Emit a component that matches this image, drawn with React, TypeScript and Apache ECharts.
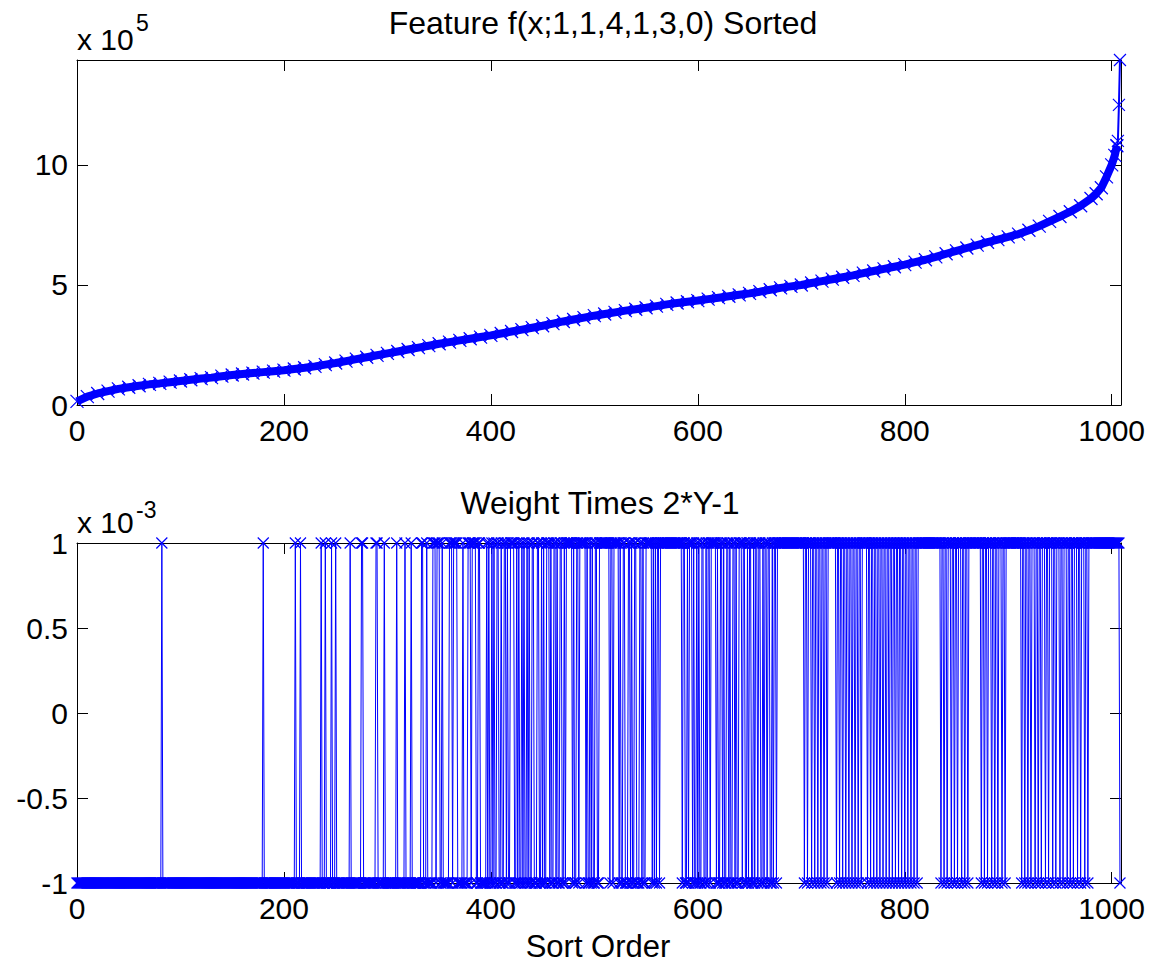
import React, { useEffect, useRef } from "react";
import * as echarts from "echarts";

// ---- Top panel: sorted feature values (units of 1e5) ----
const sortIdx = [
  0, 10, 20, 30, 40, 50, 60, 70, 80, 90,
  100, 110, 120, 130, 140, 150, 160, 170, 180, 190,
  200, 210, 220, 230, 240, 250, 260, 270, 280, 290,
  300, 310, 320, 330, 340, 350, 360, 370, 380, 390,
  400, 410, 420, 430, 440, 450, 460, 470, 480, 490,
  500, 510, 520, 530, 540, 550, 560, 570, 580, 590,
  600, 610, 620, 630, 640, 650, 660, 670, 680, 690,
  700, 710, 720, 730, 740, 750, 760, 770, 780, 790,
  800, 810, 820, 830, 840, 850, 860, 870, 880, 890,
  900, 910, 920, 930, 940, 950, 960, 970, 980, 985,
  990, 995, 1000, 1003, 1005, 1006, 1007, 1008,
];
const featureVal = [
  0.15, 0.35, 0.48, 0.58, 0.67, 0.74, 0.8, 0.86, 0.9, 0.95,
  1.0, 1.05, 1.1, 1.14, 1.2, 1.25, 1.29, 1.33, 1.37, 1.41,
  1.45, 1.5, 1.55, 1.61, 1.68, 1.75, 1.83, 1.91, 1.99, 2.07,
  2.15, 2.23, 2.31, 2.39, 2.47, 2.55, 2.62, 2.69, 2.76, 2.83,
  2.9, 2.98, 3.06, 3.14, 3.22, 3.3, 3.39, 3.48, 3.56, 3.64,
  3.72, 3.79, 3.86, 3.93, 3.99, 4.05, 4.12, 4.19, 4.25, 4.3,
  4.35, 4.41, 4.47, 4.53, 4.59, 4.65, 4.72, 4.8, 4.88, 4.94,
  5.0, 5.08, 5.16, 5.24, 5.32, 5.4, 5.49, 5.58, 5.67, 5.76,
  5.85, 5.95, 6.05, 6.17, 6.3, 6.42, 6.54, 6.66, 6.78, 6.89,
  7.0, 7.12, 7.28, 7.45, 7.65, 7.85, 8.05, 8.3, 8.6, 8.8,
  9.05, 9.5, 10.0, 10.4, 10.8, 11.0, 12.5, 14.37,
];
// from this position in the arrays on, points are sparse (thin line)
const sparseFrom = 104;

// ---- Bottom panel: weight times 2*Y-1 (units of 1e-3) ----
const nPoints = 1009;
const switchAt = 396; // before: mostly -1, after: mostly +1
// indices (before switchAt) that are +1
const upIdx = [
  82, 180, 211, 216, 236, 240, 246, 250, 264, 275, 276, 289, 290, 297,
  309, 317, 323, 333, 334, 338, 344, 345, 346, 348, 349, 350, 353, 360,
  361, 362, 364, 365, 366, 367, 373, 378, 379, 380, 382, 383, 384, 385,
  388, 389,
];
// indices (from switchAt on) that are -1
const downIdx = [
  397, 399, 400, 402, 404, 405, 408, 409, 411, 412, 415, 417, 418,
  423, 424, 426, 428, 429, 431, 433, 434, 436, 438, 439, 442, 443, 444, 447, 448, 450, 452, 453,
  457, 459, 460, 463, 465, 466, 469, 470, 472,
  479, 481, 482, 485,
  492, 494, 495, 497, 499, 500, 503, 504,
  515, 518,
  524, 526, 527, 530, 531, 532, 535, 537, 538, 541, 542, 543, 546, 548, 549,
  556, 558, 560, 563,
  585, 588, 589, 591,
  595, 597, 598, 600, 602, 603, 606, 607, 609, 612,
  618, 620, 621, 624, 626, 627, 630, 632, 633, 636, 638, 639,
  643, 646, 647, 649, 652, 653, 655, 658, 661, 662, 664, 667, 670, 671, 673, 676,
  703, 706, 710, 713, 716, 719, 722, 725,
  734, 737, 740, 743, 746, 749, 752, 755, 758,
  764, 767, 770, 773, 776, 779, 782, 785, 788, 791, 794, 797, 800, 803, 806, 809, 812,
  835, 838, 841, 845, 848, 851, 855, 858, 861,
  874, 877, 880, 884, 887, 890, 894, 897,
  913, 916, 919, 922, 926, 929, 932, 936, 939, 943, 946, 950, 953, 957,
  960, 963, 967, 970, 974, 977,
  1008,
];

const xMax = 1009;
const xStep = 200;
const topYMax = 14.37;
const topYStep = 5;
const botYStep = 0.5;

const FONT = "'Liberation Sans', Arial, Helvetica, sans-serif";
const BLUE = "#0000ff";
const XSYM = "path://M0,0L10,10M10,0L0,10";

function buildWeights(): number[][] {
  const up = new Set(upIdx);
  const down = new Set(downIdx);
  const out: number[][] = [];
  for (let i = 0; i < nPoints; i++) {
    let v: number;
    if (i < switchAt) v = up.has(i) ? 1 : -1;
    else v = down.has(i) ? -1 : 1;
    out.push([i, v]);
  }
  return out;
}

const fmt = (v: number) => String(Math.round(v * 1000) / 1000);

function xAxisDef(grid: number, pos: "top" | "bottom") {
  return {
    gridIndex: grid,
    type: "value",
    position: pos,
    min: 0,
    max: xMax,
    interval: xStep,
    axisLine: { show: true, onZero: false, lineStyle: { color: "#000", width: 1 } },
    axisTick: { show: true, inside: true, length: 11, lineStyle: { color: "#000", width: 1 } },
    axisLabel: {
      show: pos === "bottom",
      fontSize: 30,
      color: "#000",
      fontFamily: FONT,
      margin: 10,
      showMaxLabel: false,
      formatter: fmt,
    },
    splitLine: { show: false },
  };
}

function yAxisDef(grid: number, pos: "left" | "right", min: number, max: number, step: number, showMax: boolean) {
  return {
    gridIndex: grid,
    type: "value",
    position: pos,
    min,
    max,
    interval: step,
    axisLine: { show: true, onZero: false, lineStyle: { color: "#000", width: 1 } },
    axisTick: { show: true, inside: true, length: 11, lineStyle: { color: "#000", width: 1 } },
    axisLabel: {
      show: pos === "left",
      fontSize: 30,
      color: "#000",
      fontFamily: FONT,
      margin: 9,
      showMaxLabel: showMax,
      formatter: fmt,
    },
    splitLine: { show: false },
  };
}

function txt(text: string, x: number, y: number, size: number, align: string) {
  return {
    type: "text",
    x,
    y,
    silent: true,
    style: {
      text,
      fill: "#000",
      font: `${size}px ${FONT}`,
      textAlign: align,
      textVerticalAlign: "middle",
    },
  };
}

export default function App() {
  const ref = useRef<HTMLDivElement>(null);
  useEffect(() => {
    if (!ref.current) return;
    const chart = echarts.init(ref.current, undefined, { renderer: "svg" });
    const lineSeries = (xi: number, yi: number, data: number[][], lw: number, ss: number) => ({
      type: "line",
      xAxisIndex: xi,
      yAxisIndex: yi,
      data,
      symbol: XSYM,
      symbolSize: ss,
      showAllSymbol: true,
      clip: false,
      silent: true,
      lineStyle: { color: BLUE, width: lw },
      itemStyle: { color: BLUE, borderColor: BLUE, borderWidth: 1.2 },
    });
    const featurePts = sortIdx.map((x, i) => [x, featureVal[i]]);
    chart.setOption({
      animation: false,
      backgroundColor: "#fff",
      grid: [
        { left: 77, top: 60, width: 1044, height: 345 },
        { left: 77, top: 543, width: 1044, height: 340 },
      ],
      xAxis: [xAxisDef(0, "bottom"), xAxisDef(0, "top"), xAxisDef(1, "bottom"), xAxisDef(1, "top")],
      yAxis: [
        yAxisDef(0, "left", 0, topYMax, topYStep, false),
        yAxisDef(0, "right", 0, topYMax, topYStep, false),
        yAxisDef(1, "left", -1, 1, botYStep, true),
        yAxisDef(1, "right", -1, 1, botYStep, true),
      ],
      series: [
        lineSeries(0, 0, featurePts.slice(0, sparseFrom + 1), 8, 13),
        lineSeries(0, 0, featurePts.slice(sparseFrom), 2, 12),
        lineSeries(2, 2, buildWeights(), 1, 11),
      ],
      graphic: [
        txt("Feature f(x;1,1,4,1,3,0) Sorted", 603, 23, 32, "center"),
        txt("x 10", 77, 39, 30, "left"),
        txt("5", 136, 23, 23, "left"),
        txt("Weight Times 2*Y-1", 600, 503, 32, "center"),
        txt("x 10", 77, 522, 30, "left"),
        txt("-3", 136, 510, 23, "left"),
        txt("Sort Order", 598, 946, 31, "center"),
      ],
    });
    return () => chart.dispose();
  }, []);
  return (
    <div
      ref={ref}
      style={{ position: "fixed", left: 0, top: 0, width: 1153, height: 962, background: "#fff" }}
    />
  );
}
